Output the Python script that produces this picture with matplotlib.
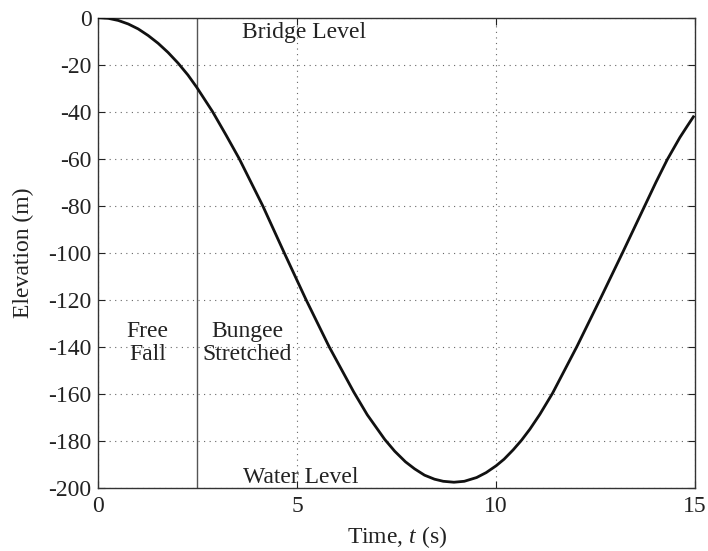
import numpy as np
import matplotlib
matplotlib.use("Agg")
import matplotlib.pyplot as plt

# Bungee jumper: elevation vs time
t = [0, 0.25, 0.5, 0.75, 1.0, 1.25, 1.5, 1.75, 2.0, 2.25, 2.47, 2.87, 3.21,
     3.54, 4.13, 4.67, 5.22, 5.80, 6.42, 6.76, 7.2, 7.45, 7.72, 7.95, 8.2,
     8.45, 8.67, 8.94, 9.2, 9.51, 9.75, 10.0, 10.2, 10.43, 10.64, 10.85,
     11.10, 11.42, 12.03, 12.61, 13.18, 13.74, 14.02, 14.30, 14.62, 14.8,
     14.96]
elev = [0, -0.3, -1.2, -2.7, -4.8, -7.6, -10.9, -14.8, -19.3, -24.4, -29.6,
        -40, -50, -60, -80, -100, -120, -140, -159.3, -169, -179.5, -184.5,
        -189.0, -192.0, -194.7, -196.4, -197.3, -197.7, -197.3, -195.7,
        -193.6, -190.7, -187.9, -183.9, -179.8, -175.1, -168.8, -159.8,
        -140, -120, -100, -80, -70, -60.5, -51.0, -46.3, -42.2]

t_stretch = 2.47   # момент, коли шнур починає розтягуватися

xticks = [0, 5, 10, 15]
yticks = [0, -20, -40, -60, -80, -100, -120, -140, -160, -180, -200]

# шрифт типу Times
plt.rcParams['font.family'] = 'serif'
plt.rcParams['font.serif'] = ['Liberation Serif', 'DejaVu Serif']
plt.rcParams['mathtext.fontset'] = 'custom'
plt.rcParams['mathtext.it'] = 'Liberation Serif:italic'
plt.rcParams['mathtext.rm'] = 'Liberation Serif'

fig = plt.figure(figsize=(7.08, 5.51), dpi=100)
ax = fig.add_axes([0.139, 0.115, 0.8426, 0.853])

ax.plot(t, elev, color='#111111', linewidth=2.0, zorder=3,
        solid_joinstyle='round')
ax.axvline(t_stretch, color='#555555', linewidth=1.0, zorder=2)

ax.set_xlim(0, 15)
ax.set_ylim(-200, 0)
ax.set_xticks(xticks)
ax.set_yticks(yticks)
ax.set_xticklabels([str(v) for v in xticks])
ax.set_yticklabels([str(v) for v in yticks])

ax.grid(True, linestyle=(0, (1, 4)), color='#666666', linewidth=0.8)
ax.tick_params(direction='in', top=True, right=True, length=5, width=0.8,
               labelsize=17, colors='#222222')
ax.tick_params(axis='x', pad=6)
ax.tick_params(axis='y', pad=5)
for s in ax.spines.values():
    s.set_color('#333333')
    s.set_linewidth(1.0)

txt = dict(fontsize=17, ha='center', va='center', color='#222222')
ax.text(5.17, -6.2, "Bridge Level", **txt)
ax.text(5.08, -195.5, "Water Level", **txt)
ax.text(1.23, -138.4, "Free\nFall", linespacing=1.15, **txt)
ax.text(3.75, -138.4, "Bungee\nStretched", linespacing=1.15, **txt)

ax.set_xlabel("Time, $t$ (s)", fontsize=17, color='#222222', labelpad=5)
ax.set_ylabel("Elevation (m)", fontsize=17, color='#222222', labelpad=10)

fig.savefig("out.png", dpi=100)
